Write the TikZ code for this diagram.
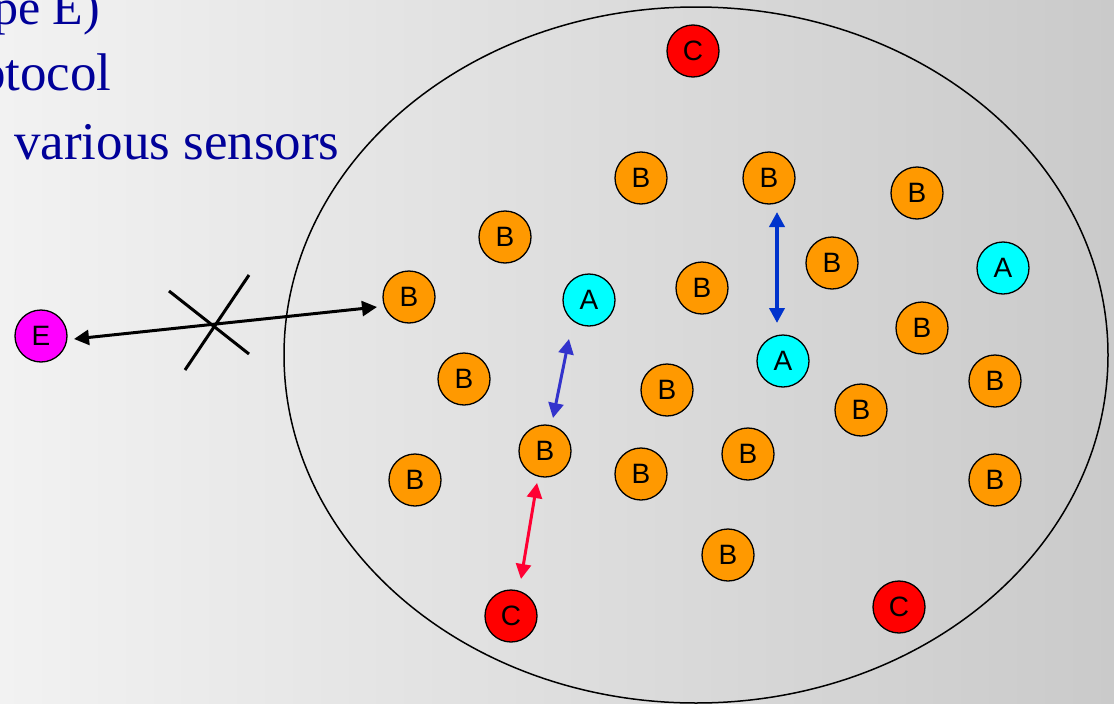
\documentclass[tikz,border=0pt]{standalone}
\usepackage{fontspec}
\setmainfont{Liberation Serif}
\setsansfont{Liberation Sans}
\usetikzlibrary{arrows.meta,calc}
\definecolor{bgL}{RGB}{242,242,242}
\definecolor{bgR}{RGB}{202,202,202}
\definecolor{txtblue}{RGB}{0,0,153}
\definecolor{nodeB}{RGB}{255,153,0}
\definecolor{nodeA}{RGB}{0,255,255}
\definecolor{nodeC}{RGB}{255,0,0}
\definecolor{nodeE}{RGB}{255,0,255}
\definecolor{arrblue}{RGB}{0,51,204}
\definecolor{arrviolet}{RGB}{51,51,204}
\definecolor{arrred}{RGB}{255,0,51}
\tikzset{
  sensor/.style={circle, draw=black, line width=1.3pt, minimum size=52pt, inner sep=0pt,
    font=\sffamily\fontsize{28}{28}\selectfont},
  sb/.style={sensor, fill=nodeB},
  sa/.style={sensor, fill=nodeA},
  sc/.style={sensor, fill=nodeC},
  se/.style={sensor, fill=nodeE},
  dbl/.style={line width=3pt, {Triangle[length=15pt,width=15pt]}-{Triangle[length=15pt,width=15pt]}},
  slidetext/.style={anchor=base west, inner sep=0pt, text=txtblue, font=\rmfamily\fontsize{53}{60}\selectfont},
}
\begin{document}
\begin{tikzpicture}[x=1pt,y=-1pt]
\path[use as bounding box] (0,0) rectangle (1114,704);
\clip (0,0) rectangle (1114,704);
\shade[left color=bgL, right color=bgR] (0,0) rectangle (1114,704);

% slide text (partly cut off at the edges)
\node[slidetext, font=\rmfamily\fontsize{50}{56}\selectfont] (t1) at (-7,24) {pe E)};
\node[slidetext] (t2) at (-21,90) {otocol};
\node[slidetext] (t3) at (14,159) {various sensors};

% network region
\draw[line width=1.5pt] (696,355) ellipse [x radius=412, y radius=348];

% nodes
\node[sc] (c1) at (693,51) {C};
\node[sc] (c2) at (511,616) {C};
\node[sc] (c3) at (899,607) {C};

\node[sa] (a1) at (589,300) {A};
\node[sa] (a2) at (783,361) {A};
\node[sa] (a3) at (1003,268) {A};

\node[sb] (b1) at (641,178) {B};
\node[sb] (b2) at (769,178) {B};
\node[sb] (b3) at (917,193) {B};
\node[sb] (b4) at (505,237) {B};
\node[sb] (b5) at (832,263) {B};
\node[sb] (b6) at (409,297) {B};
\node[sb] (b7) at (702,288) {B};
\node[sb] (b8) at (922,328) {B};
\node[sb] (b9) at (464,379) {B};
\node[sb] (b10) at (667,390) {B};
\node[sb] (b11) at (995,381) {B};
\node[sb] (b12) at (861,410) {B};
\node[sb] (b13) at (545,451) {B};
\node[sb] (b14) at (641,474) {B};
\node[sb] (b15) at (748,454) {B};
\node[sb] (b16) at (415,480) {B};
\node[sb] (b17) at (995,480) {B};
\node[sb] (b18) at (728,555) {B};

\node[se] (e) at (41,336) {E};

% connectors
\draw[dbl, black] ($(e)+(33,3)$) -- ($(b6)+(-32,10)$);
\draw[dbl, arrblue, line width=4pt] ($(b2)+(8,34)$) -- ($(a2)+(-6,-38)$);
\draw[dbl, arrviolet] ($(a1)+(-20,39)$) -- ($(b13)+(8,-33)$);
\draw[dbl, arrred] ($(b13)+(-8,32)$) -- ($(c2)+(10,-37)$);

% blocked link mark
\coordinate (x1) at (169,291);
\coordinate (x2) at (249,354);
\coordinate (x3) at (249,275);
\coordinate (x4) at (185,370);
\draw[line width=3pt] (x1) -- (x2);
\draw[line width=3pt] (x3) -- (x4);
\end{tikzpicture}
\end{document}
